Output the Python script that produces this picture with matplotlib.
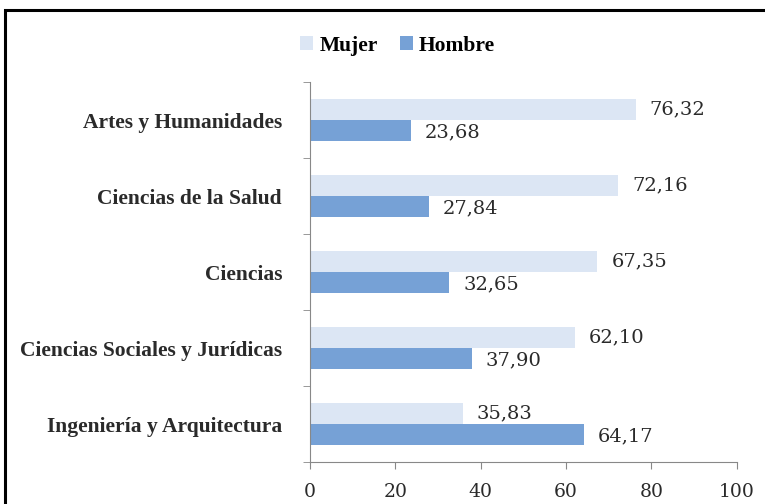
import numpy as np
import matplotlib
matplotlib.use("Agg")
import matplotlib.pyplot as plt
from matplotlib.patches import Rectangle

categories = ["Artes y Humanidades", "Ciencias de la Salud", "Ciencias",
              "Ciencias Sociales y Jurídicas", "Ingeniería y Arquitectura"]
mujer = [76.32, 72.16, 67.35, 62.10, 35.83]
hombre = [23.68, 27.84, 32.65, 37.90, 64.17]
xticks = [0, 20, 40, 60, 80, 100]

C_MUJER = "#dce6f4"
C_HOMBRE = "#76a1d6"
plt.rcParams["font.family"] = ["Liberation Serif", "DejaVu Serif"]
NUMFONT = "DejaVu Serif"

fig = plt.figure(figsize=(7.65, 5.04), dpi=100)
ax = fig.add_axes([0.405, 0.083, 0.558, 0.754])

# frame around the chart
fig.patches.append(Rectangle((0.007, -0.01), 1.0, 0.99, transform=fig.transFigure,
                             fill=False, ec="black", lw=2.2))

n = len(categories)
y = np.arange(n)[::-1].astype(float)
h = 0.28
ax.barh(y + h / 2, mujer, height=h, color=C_MUJER, label="Mujer")
ax.barh(y - h / 2, hombre, height=h, color=C_HOMBRE, label="Hombre")

for yi, m, hm in zip(y, mujer, hombre):
    ax.text(m + 3.3, yi + h / 2, f"{m:.2f}".replace(".", ","), va="center",
            ha="left", fontsize=14, color="#2a2a2a", family=NUMFONT)
    ax.text(hm + 3.3, yi - h / 2 - 0.02, f"{hm:.2f}".replace(".", ","), va="center",
            ha="left", fontsize=14, color="#2a2a2a", family=NUMFONT)

ax.set_xlim(0, 100)
ax.set_ylim(-0.5, n - 0.5)
ax.set_xticks(xticks)
ax.set_xticklabels([str(v) for v in xticks], fontsize=13.5, family=NUMFONT, color="#2a2a2a")
ax.set_yticks(y)
ax.set_yticklabels(categories, fontsize=15.5, fontweight="bold", color="#2a2a2a")
ax.set_yticks(np.arange(n + 1) - 0.5, minor=True)
ax.tick_params(axis="y", which="major", length=0, pad=20)
ax.tick_params(axis="y", which="minor", length=5, color="#888888")
ax.tick_params(axis="x", length=5, color="#888888", pad=10)

for s in ["top", "right"]:
    ax.spines[s].set_visible(False)
for s in ["left", "bottom"]:
    ax.spines[s].set_color("#888888")

fig.legend(loc="upper center", bbox_to_anchor=(0.52, 0.968), ncol=2, frameon=False,
           handlelength=0.6, handleheight=0.6, handletextpad=0.3,
           columnspacing=1.0, prop={"weight": "bold", "size": 15.5})

fig.savefig("out.png", dpi=100)
